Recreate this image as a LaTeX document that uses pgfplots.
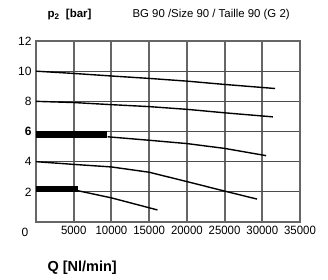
\documentclass[border=0pt]{standalone}
\usepackage{pgfplots}
\pgfplotsset{compat=1.18}
\usepackage{fontspec}
\setmainfont{Liberation Sans}
\begin{document}
\begin{tikzpicture}
\begin{axis}[
  at={(0,0)}, anchor=south west,
  scale only axis, width=264pt, height=181pt,
  xmin=0, xmax=35000, ymin=0, ymax=12,
  scaled x ticks=false,
  xtick={5000,10000,15000,20000,25000,30000,35000},
  xticklabels={5000,10000,15000,20000,25000,30000,35000},
  ytick={2,4,6,8,10,12},
  yticklabels={2,4,\textbf{6},8,10,12},
  xmajorgrids=true, ymajorgrids=true,
  x grid style={black!60, line width=2pt},
  y grid style={black!70, line width=1pt},
  axis line style={black!60, line width=1.2pt},
  major tick length=0pt,
  ticklabel style={font=\fontsize{12}{14}\selectfont},
  /pgf/number format/assume math mode=true,
  xticklabel style={yshift=-1pt, xscale=0.95},
  yticklabel style={xshift=-1pt},
  clip=false,
]
\addplot[black, line width=1.4pt] coordinates {(0,10) (5000,9.85) (10000,9.68) (15000,9.52) (20000,9.34) (25000,9.12) (31700,8.85)};
\addplot[black, line width=1.4pt] coordinates {(0,8) (5000,7.92) (10000,7.78) (15000,7.65) (20000,7.47) (25000,7.24) (31400,6.97)};
\addplot[black, line width=1.4pt] coordinates {(9500,5.65) (15000,5.42) (20000,5.2) (25000,4.88) (30500,4.4)};
\addplot[black, line width=1.4pt] coordinates {(0,4) (5000,3.82) (10000,3.65) (15000,3.3) (20000,2.68) (25000,2.05) (29300,1.52)};
\addplot[black, line width=1.4pt] coordinates {(5500,2.08) (10000,1.6) (16100,0.8)};
\addplot[black, line width=6.5pt, line cap=butt] coordinates {(0,5.81) (9460,5.81)};
\addplot[black, line width=6pt, line cap=butt] coordinates {(0,2.16) (5530,2.16)};
\end{axis}
\node[font=\fontsize{12}{14}\selectfont] at (-11pt,-10pt) {0};
\node[anchor=west, font=\fontsize{11.5}{13}\selectfont\bfseries] at (8pt,207pt) {p\textsubscript{2}\ \ [bar]};
\node[anchor=west, font=\fontsize{11.4}{13}\selectfont] at (93pt,207pt) {BG 90 /Size 90 / Taille 90 (G 2)};
\node[anchor=west, font=\fontsize{14.5}{16}\selectfont\bfseries] at (8pt,-46pt) {Q [Nl/min]};
\pgfresetboundingbox
\path[use as bounding box] (-36pt,-57pt) rectangle (292pt,222pt);
\end{tikzpicture}
\end{document}
